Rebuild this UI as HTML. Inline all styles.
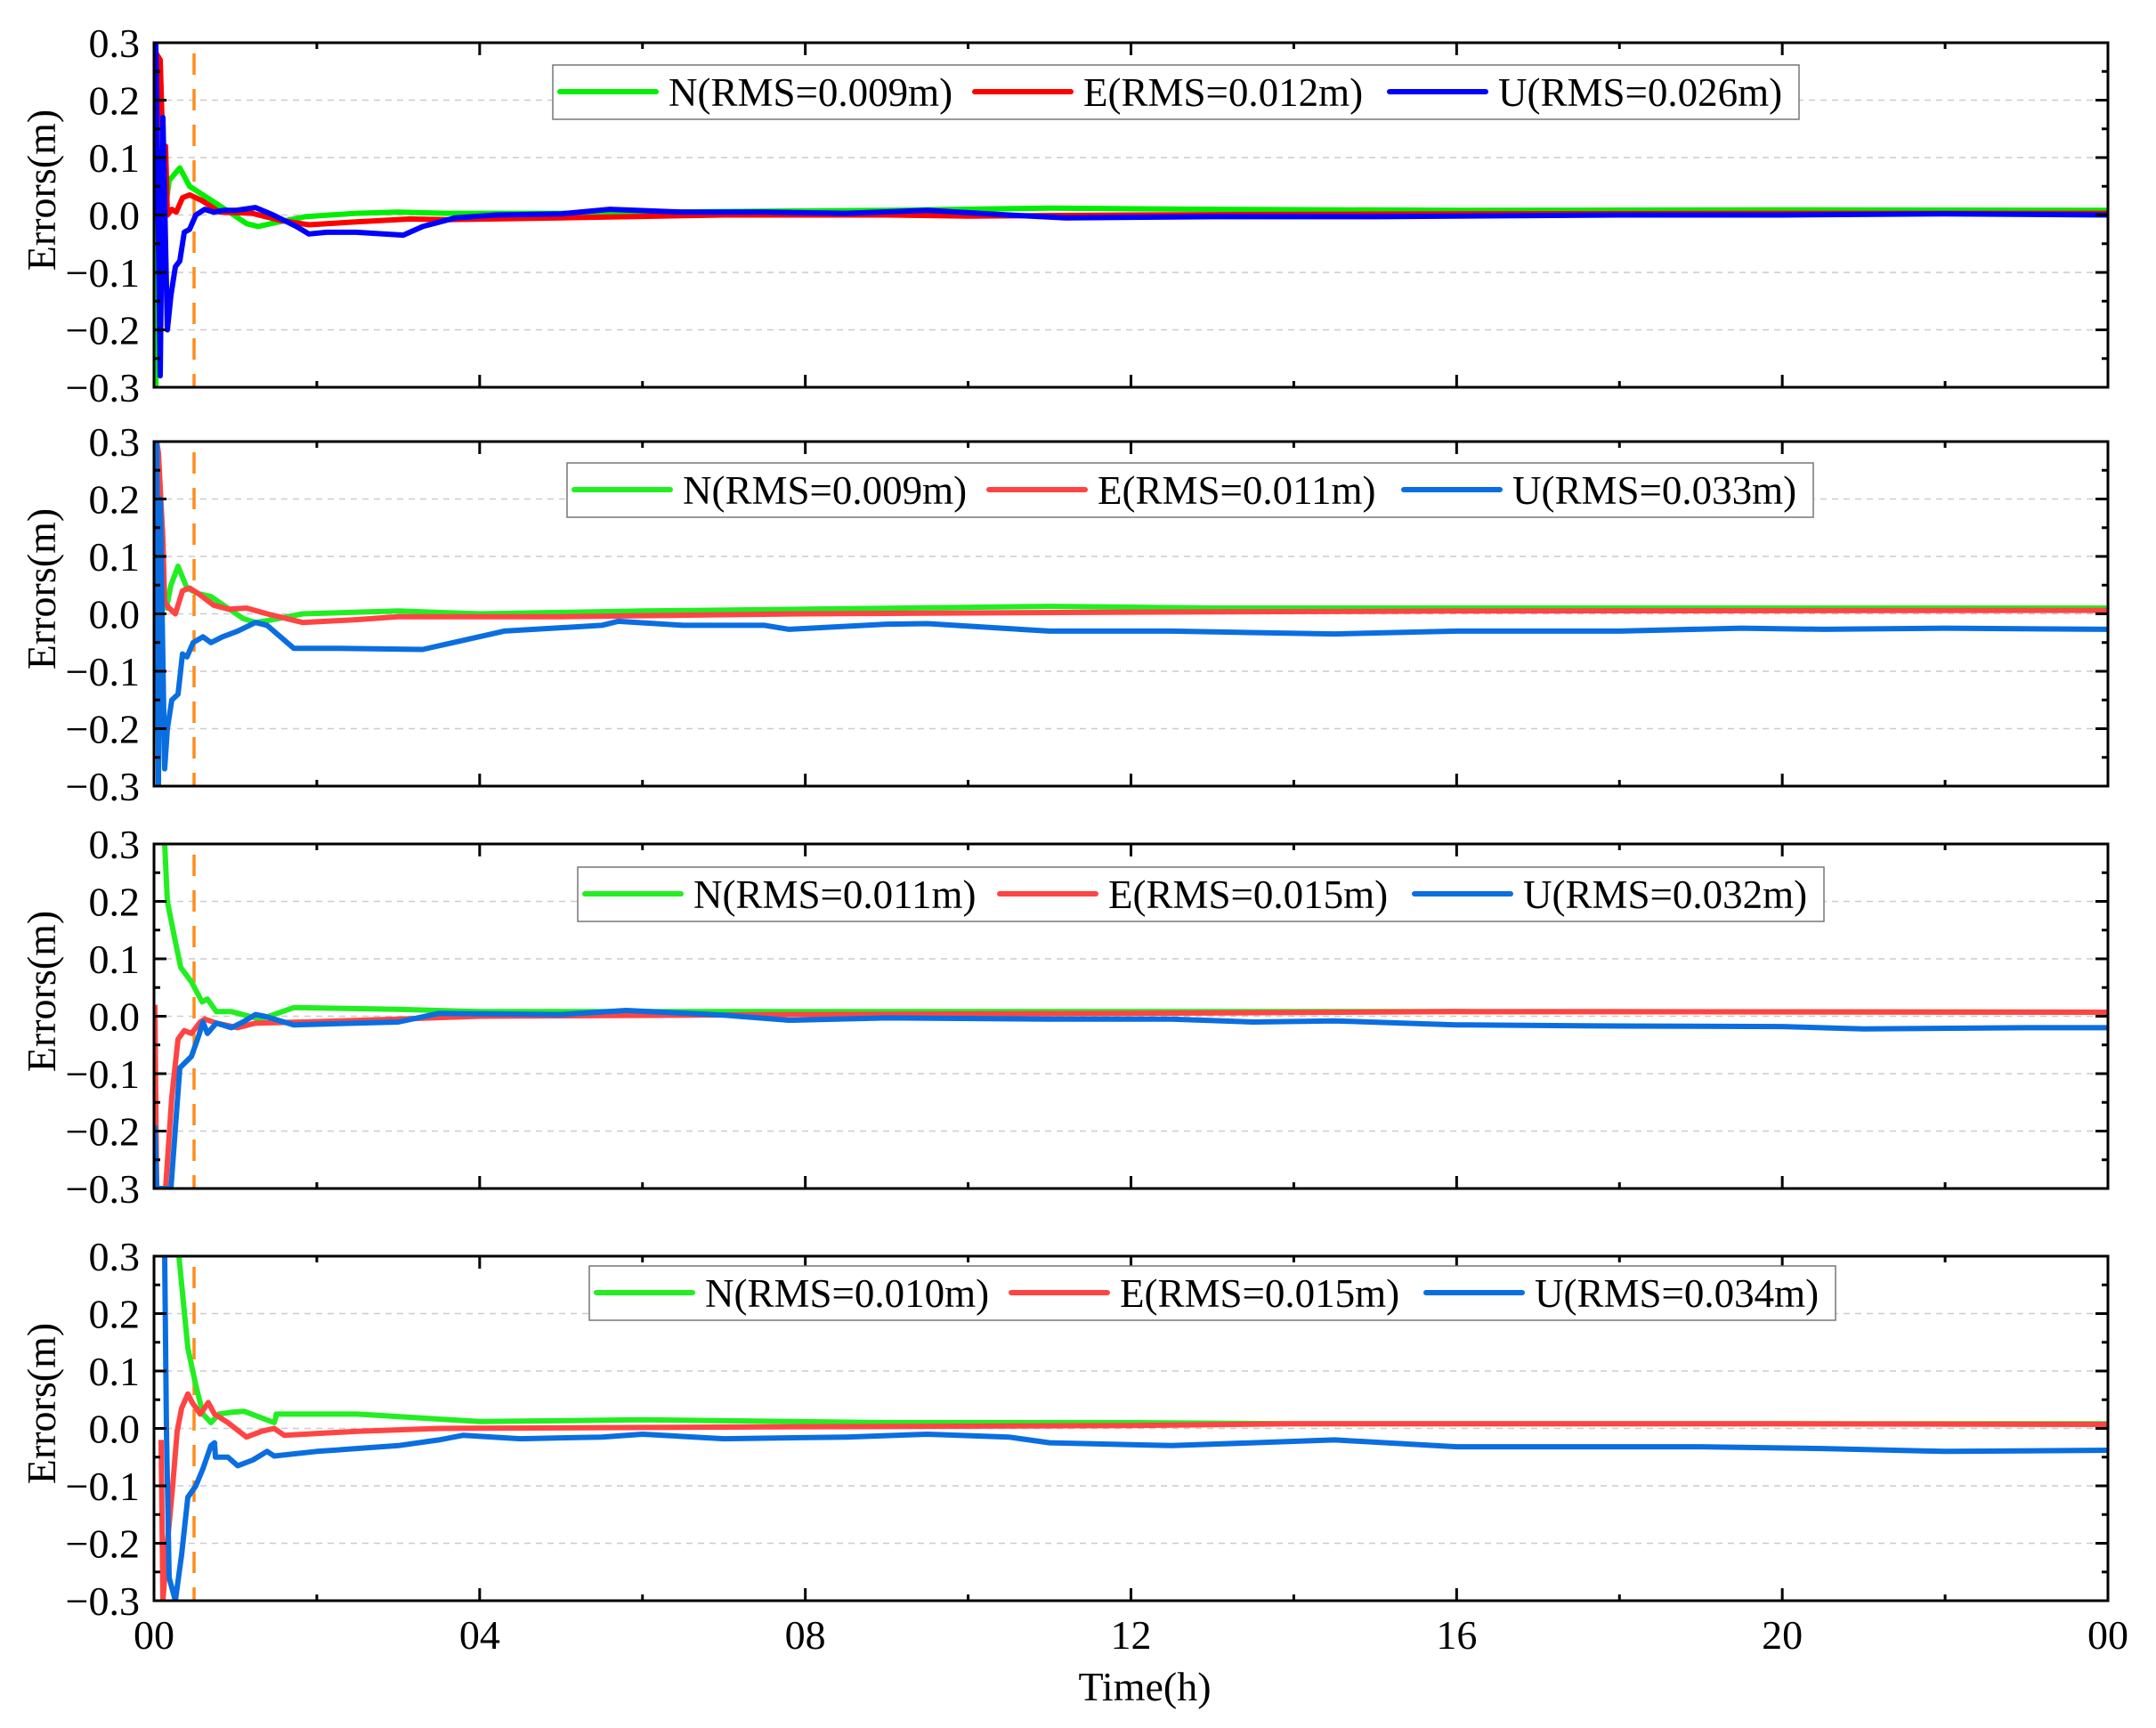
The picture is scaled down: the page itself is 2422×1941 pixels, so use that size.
<!DOCTYPE html>
<html><head><meta charset="utf-8"><style>
html,body{margin:0;padding:0;background:#fff;}
svg{display:block;font-family:"Liberation Serif",serif;}
</style></head><body>
<svg id="s" width="2422" height="1941" xmlns="http://www.w3.org/2000/svg"></svg>
<script>
const L=173,R=2368,PH=387,HX=(R-L)/24;
const tops=[48,496,948,1411];
const legs=[[621,73,"0.009","0.012","0.026"],[637,520,"0.009","0.011","0.033"],[649,974,"0.011","0.015","0.032"],[662,1422,"0.010","0.015","0.034"]];
const colsA=["#00ee00","#ff0000","#0000ff"], colsB=["#22ee22","#ff4444","#0a6ee0"];
const D=[
[
 [[175,-0.3],[178,0.06],[185,0.0],[190,0.06],[202,0.082],[213,0.05],[233,0.03],[253,0.01],[277,-0.015],[290,-0.02],[310,-0.013],[343,-0.003],[400,0.003],[447,0.005]],
 [[3.6,0.003],[5,0.003],[7,0.006],[9,0.008],[11,0.012],[13,0.01],[16,0.008],[20,0.009],[24,0.008]],
 [[173,0.0],[176,0.28],[180,0.27],[185,0.01],[186,0.12],[188,0.0],[193,0.01],[198,0.005],[205,0.03],[213,0.035],[227,0.025],[247,0.005],[283,0.003],[317,-0.01],[347,-0.017],[400,-0.012],[460,-0.007]],
 [[3.6,-0.008],[5,-0.005],[7,0.0],[9,0.0],[10,-0.002],[12,0.0],[16,0.002],[20,0.003],[24,0.003]],
 [[175,0.3],[180,-0.28],[183,0.17],[188,-0.2],[192,-0.14],[197,-0.09],[202,-0.08],[207,-0.03],[213,-0.025],[220,0.0],[230,0.01],[240,0.005],[251,0.008],[265,0.008],[287,0.013],[307,0.0],[333,-0.02],[347,-0.033],[367,-0.03],[400,-0.03],[453,-0.035],[475,-0.02]],
 [[3.7,-0.005],[4.2,0.0],[5,0.002],[5.6,0.01],[6.5,0.005],[7.5,0.005],[8.5,0.003],[9.5,0.008],[10.5,0.0],[11.2,-0.005],[13,-0.003],[15,-0.003],[18,0.0],[20,0.0],[22,0.002],[24,0.0]]
],
[
 [[174,0.08],[187,0.01],[192,0.05],[200,0.083],[210,0.045],[223,0.035],[237,0.03],[253,0.013],[273,-0.008],[287,-0.015],[300,-0.012],[340,0.0]],
 [[3,0.005],[4,0.0],[6,0.005],[8,0.008],[11,0.013],[13,0.01],[24,0.01]],
 [[174,0.0],[176,0.3],[178,0.28],[183,0.13],[185,0.02],[190,0.01],[197,0.0],[205,0.04],[213,0.045],[223,0.035],[240,0.015],[257,0.008],[277,0.01],[300,0.0],[340,-0.015]],
 [[2.5,-0.01],[3,-0.005],[5,-0.005],[8,0.0],[12,0.003],[16,0.005],[24,0.006]],
 [[176,0.3],[178,-0.3],[180,0.2],[185,-0.27],[188,-0.2],[193,-0.15],[200,-0.14],[205,-0.07],[210,-0.075],[217,-0.05],[228,-0.04],[237,-0.05],[250,-0.04],[267,-0.03],[287,-0.015],[300,-0.02],[330,-0.06]],
 [[2.2,-0.06],[3.3,-0.062],[4.3,-0.03],[5.5,-0.02],[5.7,-0.013],[6.5,-0.02],[7.5,-0.02],[7.8,-0.027],[9,-0.018],[9.5,-0.017],[11,-0.03],[12.5,-0.03],[14.5,-0.035],[16,-0.03],[18,-0.03],[19.5,-0.025],[20.5,-0.027],[22,-0.025],[24,-0.027]]
],
[
 [[185,0.3],[188,0.2],[197,0.13],[203,0.085],[215,0.06],[227,0.025],[233,0.03],[243,0.008],[260,0.008],[280,0.0],[293,-0.005],[330,0.015]],
 [[3,0.012],[4,0.008],[8,0.008],[16,0.008],[24,0.007]],
 [[174,0.02],[176,-0.3],[186,-0.3],[193,-0.14],[200,-0.04],[207,-0.025],[215,-0.03],[225,-0.01],[230,-0.005],[243,-0.012],[267,-0.02],[287,-0.012],[340,-0.01]],
 [[3,-0.005],[4,0.0],[8,0.003],[12,0.005],[16,0.008],[24,0.007]],
 [[174,-0.19],[176,-0.3],[192,-0.3],[202,-0.09],[215,-0.07],[223,-0.035],[228,-0.01],[233,-0.03],[243,-0.012],[260,-0.02],[273,-0.01],[287,0.003],[297,0.0],[330,-0.015]],
 [[3,-0.01],[3.5,0.005],[5,0.003],[5.8,0.01],[7,0.002],[7.8,-0.007],[9,-0.003],[11,-0.005],[12.5,-0.005],[13.5,-0.01],[14.5,-0.008],[16,-0.015],[18,-0.017],[20,-0.018],[21,-0.022],[23,-0.02],[24,-0.02]]
],
[
 [[201,0.3],[211,0.14],[220,0.075],[228,0.025],[237,0.01],[246,0.025],[260,0.028],[274,0.03],[291,0.02],[308,0.01],[310,0.02]],
 [[1.5,0.025],[2.5,0.025],[4,0.012],[6,0.015],[9,0.01],[12,0.01],[14,0.008],[24,0.008]],
 [[181,-0.02],[183,-0.3],[188,-0.2],[194,-0.1],[199,-0.005],[204,0.035],[211,0.06],[216,0.045],[225,0.025],[234,0.045],[241,0.025],[256,0.01],[277,-0.015],[294,-0.005],[308,0.0]],
 [[1.6,-0.012],[2.5,-0.005],[3.5,0.0],[8,0.003],[12,0.005],[14,0.008],[20,0.008],[24,0.007]],
 [[185,0.3],[187,-0.005],[190,-0.26],[197,-0.3],[204,-0.22],[211,-0.12],[220,-0.1],[228,-0.07],[237,-0.03],[241,-0.025],[242,-0.05],[256,-0.05],[267,-0.065],[284,-0.055],[300,-0.04],[308,-0.048]],
 [[2,-0.04],[3,-0.03],[3.5,-0.02],[3.8,-0.012],[4.5,-0.018],[5.5,-0.015],[6,-0.01],[7,-0.018],[8.5,-0.015],[9.5,-0.01],[10.5,-0.015],[11,-0.025],[12.5,-0.03],[13.5,-0.025],[14.5,-0.02],[16,-0.032],[19,-0.032],[20.5,-0.035],[22,-0.04],[24,-0.038]]
]];
let h='';
const labs=["0.3","0.2","0.1","0.0","\u22120.1","\u22120.2","\u22120.3"];
tops.forEach((T,p)=>{
 const B=T+PH, Z=T+PH/2, S=PH/6;
 const Y=v=>Z-v/0.1*S;
 h+=`<clipPath id="c${p}"><rect x="${L}" y="${T}" width="${R-L}" height="${PH}"/></clipPath>`;
 for(let k=1;k<6;k++){h+=`<line x1="${L}" x2="${R}" y1="${T+k*S}" y2="${T+k*S}" stroke="#ccc" stroke-width="1.5" stroke-dasharray="7 6"/>`;}
 h+=`<line x1="218" x2="218" y1="${T+12}" y2="${B}" stroke="#ff8c1a" stroke-width="3.5" stroke-dasharray="24 16"/>`;
 const cols=p==0?colsA:colsB;
 for(let s=0;s<3;s++){
  const pts=D[p][2*s].concat(D[p][2*s+1].map(([hh,v])=>[L+hh*HX,v]));
  h+=`<polyline clip-path="url(#c${p})" fill="none" stroke="${cols[s]}" stroke-width="6" stroke-linejoin="round" points="${pts.map(([x,v])=>x.toFixed(1)+','+Y(v).toFixed(1)).join(' ')}"/>`;
 }
 for(let k=0;k<=12;k++){const x=L+k*2*HX,len=k%2?7:14;
  h+=`<line x1="${x}" x2="${x}" y1="${T}" y2="${T+len}" stroke="#000" stroke-width="3"/><line x1="${x}" x2="${x}" y1="${B}" y2="${B-len}" stroke="#000" stroke-width="3"/>`;}
 for(let k=0;k<=12;k++){const y=T+k*S/2,len=k%2?7:14;
  h+=`<line x1="${L}" x2="${L+len}" y1="${y}" y2="${y}" stroke="#000" stroke-width="3"/><line x1="${R}" x2="${R-len}" y1="${y}" y2="${y}" stroke="#000" stroke-width="3"/>`;}
 for(let k=0;k<7;k++){h+=`<text x="157" y="${T+k*S+16}" font-size="46" text-anchor="end">${labs[k]}</text>`;}
 h+=`<rect x="${L}" y="${T}" width="${R-L}" height="${PH}" fill="none" stroke="#000" stroke-width="3"/>`;
 h+=`<text transform="translate(62,${Z-28}) rotate(-90)" font-size="46" text-anchor="middle">Errors(m)</text>`;
 const [lx,ly,a,b,c]=legs[p], lm=ly+30;
 h+=`<rect x="${lx}" y="${ly}" width="1400" height="61" fill="#fff" stroke="#777" stroke-width="1.5"/>`;
 [[8,"N",a],[474,"E",b],[940,"U",c]].forEach(([o,n,v],i)=>{
  h+=`<line x1="${lx+o}" x2="${lx+o+108}" y1="${lm}" y2="${lm}" stroke="${cols[i]}" stroke-width="6" stroke-linecap="round"/>`;
  h+=`<text x="${lx+o+122}" y="${lm+16}" font-size="45">${n}(RMS=${v}m)</text>`;
 });
});
["00","04","08","12","16","20","00"].forEach((t,k)=>{h+=`<text x="${L+k*4*HX}" y="1852" font-size="46" text-anchor="middle">${t}</text>`;});
h+=`<text x="1286" y="1910" font-size="46" text-anchor="middle">Time(h)</text>`;
document.getElementById('s').innerHTML=h;
</script>
</body></html>
